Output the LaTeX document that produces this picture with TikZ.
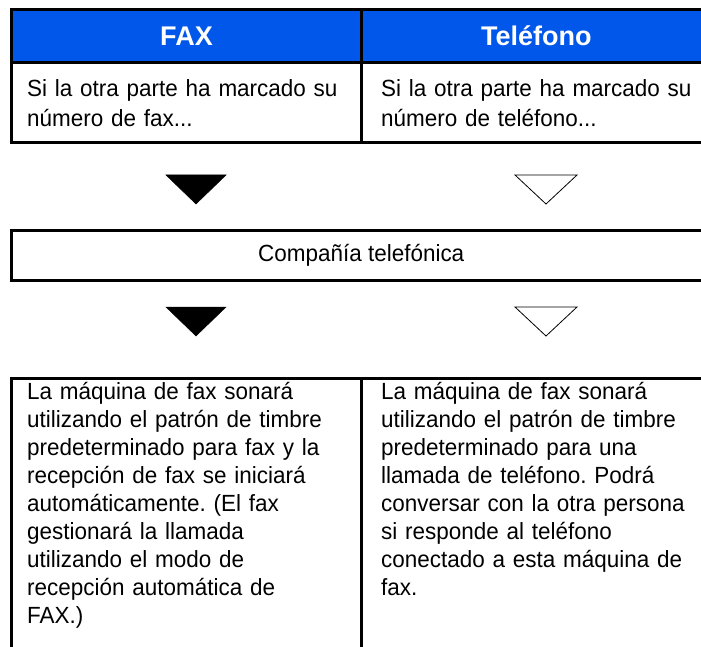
\documentclass[tikz,border=0pt]{standalone}
\usepackage{fontspec}
\setmainfont{Liberation Sans}
\newfontfamily\condfont[FakeStretch=0.96]{Liberation Sans}
\frenchspacing
\definecolor{hdrblue}{RGB}{0,87,234}
\begin{document}
\begin{tikzpicture}[x=1pt,y=-1pt,
  frame/.style={draw=black,line width=3pt},
  hdr/.style={frame,fill=hdrblue,text=white,font=\bfseries\fontsize{27}{30}\selectfont,inner sep=0pt},
  cell/.style={frame,inner sep=0pt},
  txt/.style={anchor=north west,inner sep=0pt,text width=330pt,align=left,font=\condfont\frenchspacing\fontsize{23.4}{28}\selectfont},
  toptxt/.style={txt,font=\condfont\frenchspacing\fontsize{23.4}{30}\selectfont},
  solidtri/.style={fill=black,draw=black,line width=0.5pt},
  opentri/.style={draw=black,line width=0.8pt,fill=white},
]
\useasboundingbox (0,0) rectangle (701,647);
\clip (0,0) rectangle (701,647);
% header
\node[hdr,minimum width=350pt,minimum height=53pt] (hfax) at (186.5,36) {FAX};
\node[hdr,minimum width=349.5pt,minimum height=53pt] (htel) at (536.25,36) {Teléfono};
% first row
\node[cell,minimum width=350pt,minimum height=80pt] (rfax) at (186.5,102.5) {};
\node[cell,minimum width=349.5pt,minimum height=80pt] (rtel) at (536.25,102.5) {};
\node[toptxt] (tfax) at (27,75) {\strut Si la otra parte ha marcado su\\número de fax...};
\node[toptxt] (ttel) at (381,75) {\strut Si la otra parte ha marcado su\\número de teléfono...};
% triangles 1
\path[solidtri] (166,175) -- (226,175) -- (196,204) -- cycle;
\path[opentri] (515,175) -- (577,175) -- (546,204) -- cycle;
% telephone company
\node[cell,minimum width=699.5pt,minimum height=50pt,font=\condfont\fontsize{23.4}{28}\selectfont] (comp) at (361.25,255.5) {Compañía telefónica};
% triangles 2
\path[solidtri] (166,307) -- (226,307) -- (196,336) -- cycle;
\path[opentri] (515,307) -- (577,307) -- (546,336) -- cycle;
% bottom boxes
\node[cell,minimum width=350pt,minimum height=300pt,anchor=north] (bfax) at (186.5,376.5) {};
\node[cell,minimum width=349.5pt,minimum height=300pt,anchor=north] (btel) at (536.25,376.5) {};
\node[txt] (xfax) at (27,379.5) {\strut La máquina de fax sonará\\utilizando el patrón de timbre\\predeterminado para fax y la\\recepción de fax se iniciará\\automáticamente. (El fax\\gestionará la llamada\\utilizando el modo de\\recepción automática de\\FAX.)};
\node[txt] (xtel) at (381,379.5) {\strut La máquina de fax sonará\\utilizando el patrón de timbre\\predeterminado para una\\llamada de teléfono. Podrá\\conversar con la otra persona\\si responde al teléfono\\conectado a esta máquina de\\fax.};
\end{tikzpicture}
\end{document}
